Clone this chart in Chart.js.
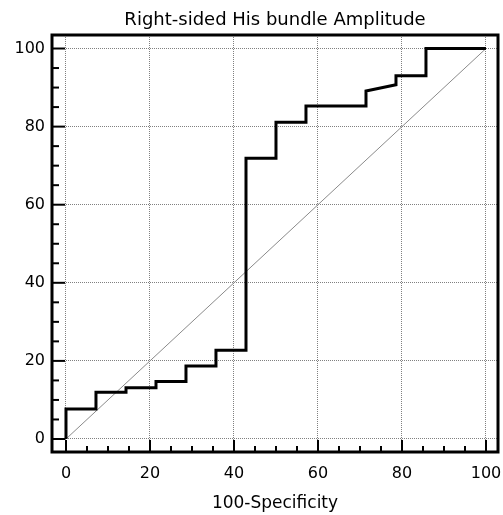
<!DOCTYPE html>
<html>
<head>
<meta charset="utf-8">
<script src="https://cdn.jsdelivr.net/npm/chart.js@4.4.0/dist/chart.umd.min.js"></script>
<style>
  html, body { margin: 0; padding: 0; background: #fff; }
  #wrap { width: 503px; height: 515px; }
</style>
</head>
<body>
<div id="wrap"><canvas id="roc"></canvas></div>
<script>
// ROC curve vertices: 100-Specificity (x) and Sensitivity (y)
const specX = [0, 0, 7.14, 7.14, 14.29, 14.29, 21.43, 21.43, 28.57, 28.57, 35.71, 35.71,
               42.86, 42.86, 50, 50, 57.14, 57.14, 71.43, 71.43, 78.57, 78.57, 85.71, 85.71, 100];
const sensY = [0, 7.7, 7.7, 12.0, 12.0, 13.1, 13.1, 14.7, 14.7, 18.7, 18.7, 22.7,
               22.7, 71.9, 71.9, 81.1, 81.1, 85.3, 85.3, 89.1, 90.7, 93.0, 93.0, 100, 100];
// reference diagonal
const diagX = [0, 100];
const diagY = [0, 100];
const tickValues = [0, 20, 40, 60, 80, 100];
const minorStep = 5;
const titleText = 'Right-sided His bundle Amplitude';
const xTitle = '100-Specificity';

const FONT = "'DejaVu Sans', sans-serif";

// Frame round the plot plus the inward tick marks (major every 20, minor every 5).
const frameTicks = {
    id: 'frameTicks',
    afterDatasetsDraw(chart) {
        const { ctx, chartArea: a, scales: { x, y } } = chart;
        ctx.save();
        ctx.strokeStyle = '#000';
        ctx.lineWidth = 2;
        for (let v = 0; v <= 100; v += minorStep) {
            const major = v % 20 === 0;
            const px = x.getPixelForValue(v);
            ctx.beginPath();
            ctx.moveTo(px, a.bottom);
            ctx.lineTo(px, a.bottom - (major ? 12 : 6));
            ctx.stroke();
            const py = y.getPixelForValue(v);
            ctx.beginPath();
            ctx.moveTo(a.left, py);
            ctx.lineTo(a.left + (major ? 13 : 7), py);
            ctx.stroke();
        }
        ctx.lineWidth = 3;
        ctx.strokeRect(a.left, a.top, a.right - a.left, a.bottom - a.top);
        ctx.restore();
    }
};

const fixTicks = scale => { scale.ticks = tickValues.map(v => ({ value: v })); };
// fixed box sizes, and no extra room for overhanging labels
const fixSize = (w, h) => s => {
    if (w !== null) s.width = w;
    if (h !== null) s.height = h;
    s.paddingLeft = s.paddingRight = s.paddingTop = s.paddingBottom = 0;
};

new Chart(document.getElementById('roc').getContext('2d'), {
    type: 'line',
    data: {
        datasets: [
            {
                data: specX.map((v, i) => ({ x: v, y: sensY[i] })),
                borderColor: '#000',
                borderWidth: 3,
                pointRadius: 0,
                tension: 0,
                fill: false
            },
            {
                data: diagX.map((v, i) => ({ x: v, y: diagY[i] })),
                borderColor: '#8a8a8a',
                borderWidth: 1,
                pointRadius: 0,
                fill: false
            }
        ]
    },
    options: {
        responsive: true,
        maintainAspectRatio: false,
        animation: false,
        layout: { padding: { left: 0, right: 5, top: 0, bottom: 0 } },
        plugins: {
            legend: { display: false },
            tooltip: { enabled: false },
            title: { display: false }
        },
        scales: {
            x: {
                type: 'linear',
                position: 'bottom',
                min: -3.33,
                max: 102.86,
                afterBuildTicks: fixTicks,
                afterFit: fixSize(null, 63),
                grid: { color: '#808080', lineWidth: 1, drawTicks: false },
                border: { display: false, dash: [1, 1] },
                ticks: { color: '#000', font: { family: FONT, size: 16 }, padding: 12, maxRotation: 0 },
                title: {
                    display: true,
                    text: xTitle,
                    color: '#000',
                    font: { family: FONT, size: 17 },
                    padding: { top: 0, bottom: 1 }
                }
            },
            x2: {
                type: 'linear',
                position: 'top',
                afterFit: fixSize(null, 35),
                grid: { display: false },
                border: { display: false },
                ticks: { display: false },
                title: {
                    display: true,
                    text: titleText,
                    color: '#000',
                    font: { family: FONT, size: 18 },
                    padding: { top: 10, bottom: 0 }
                }
            },
            y: {
                type: 'linear',
                min: -3.33,
                max: 103.46,
                afterBuildTicks: fixTicks,
                afterFit: fixSize(52, null),
                grid: { color: '#808080', lineWidth: 1, drawTicks: false },
                border: { display: false, dash: [1, 1] },
                ticks: { color: '#000', font: { family: FONT, size: 16 }, padding: 7 }
            }
        }
    },
    plugins: [frameTicks]
});
</script>
</body>
</html>
